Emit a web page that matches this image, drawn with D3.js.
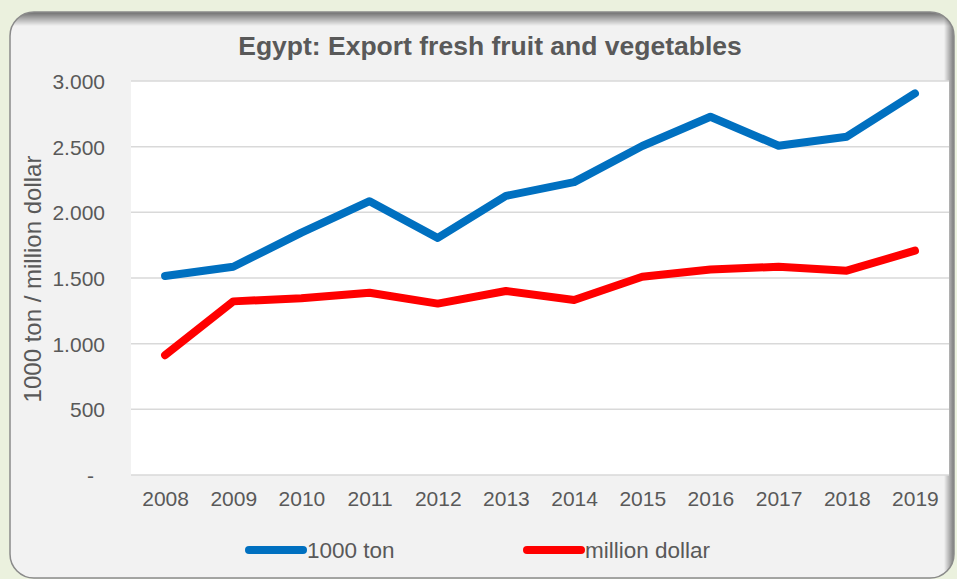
<!DOCTYPE html>
<html>
<head>
<meta charset="utf-8">
<script src="https://cdn.jsdelivr.net/npm/d3@7/dist/d3.min.js"></script>
<style>
  html, body { margin: 0; padding: 0; background: #ebf1de; }
  svg { display: block; font-family: "Liberation Sans", Arial, sans-serif; }
</style>
</head>
<body>
<svg id="chart" width="957" height="579"></svg>
<script>
const title = "Egypt: Export fresh fruit and vegetables";
const yAxisTitle = "1000 ton / million dollar";
const years = ["2008","2009","2010","2011","2012","2013","2014","2015","2016","2017","2018","2019"];
const seriesNames = ["1000 ton", "million dollar"];
const tonValues = [1515, 1586, 1845, 2085, 1805, 2125, 2230, 2505, 2728, 2507, 2576, 2906];
const dollarValues = [912, 1322, 1345, 1388, 1305, 1401, 1332, 1510, 1564, 1586, 1556, 1708];
const yTicks = [0, 500, 1000, 1500, 2000, 2500, 3000];
const colors = ["#0070c0", "#ff0000"];

const svg = d3.select("#chart");
const plot = { left: 131, right: 949, top: 81, bottom: 475 };

// defs
const defs = svg.append("defs");
defs.append("clipPath").attr("id", "panelClip")
  .append("rect").attr("x", 10).attr("y", 12).attr("width", 944).attr("height", 566).attr("rx", 24).attr("ry", 24);
const gTop = defs.append("linearGradient").attr("id", "shTop").attr("x1", 0).attr("y1", 0).attr("x2", 0).attr("y2", 1);
gTop.append("stop").attr("offset", "0").attr("stop-color", "#000").attr("stop-opacity", 0.55);
gTop.append("stop").attr("offset", "1").attr("stop-color", "#000").attr("stop-opacity", 0);
const gRight = defs.append("linearGradient").attr("id", "shRight").attr("x1", 1).attr("y1", 0).attr("x2", 0).attr("y2", 0);
gRight.append("stop").attr("offset", "0").attr("stop-color", "#000").attr("stop-opacity", 0.5);
gRight.append("stop").attr("offset", "1").attr("stop-color", "#000").attr("stop-opacity", 0);

// panel
svg.append("rect").attr("x", 10).attr("y", 12).attr("width", 944).attr("height", 566)
  .attr("rx", 24).attr("ry", 24).attr("fill", "#f2f2f2");
const sh = svg.append("g").attr("clip-path", "url(#panelClip)");
sh.append("rect").attr("x", 10).attr("y", 12).attr("width", 944).attr("height", 14).attr("fill", "url(#shTop)");
sh.append("rect").attr("x", 944).attr("y", 12).attr("width", 10).attr("height", 566).attr("fill", "url(#shRight)");
svg.append("rect").attr("x", 10).attr("y", 12).attr("width", 944).attr("height", 566)
  .attr("rx", 24).attr("ry", 24).attr("fill", "none").attr("stroke", "#8a8a8a").attr("stroke-width", 1.5);

// plot area
svg.append("rect").attr("x", plot.left).attr("y", plot.top)
  .attr("width", plot.right - plot.left).attr("height", plot.bottom - plot.top).attr("fill", "#ffffff");

const x = d3.scalePoint().domain(years).range([plot.left, plot.right]).padding(0.5);
const y = d3.scaleLinear().domain([0, 3000]).range([plot.bottom, plot.top]);

const loc = d3.formatLocale({ decimal: ",", thousands: ".", grouping: [3], currency: ["", ""] });
const fmt = loc.format(",");

// gridlines
svg.append("g").selectAll("line").data(yTicks).join("line")
  .attr("x1", plot.left).attr("x2", plot.right)
  .attr("y1", d => y(d)).attr("y2", d => y(d))
  .attr("stroke", "#d9d9d9").attr("stroke-width", 1.5);

// y axis
const yAxis = svg.append("g").attr("transform", `translate(${plot.left - 26},0)`)
  .call(d3.axisLeft(y).tickValues(yTicks).tickSize(0).tickFormat(d => d === 0 ? "-" : fmt(d)));
yAxis.select(".domain").remove();
yAxis.selectAll("text").attr("fill", "#595959").attr("font-size", 21).attr("x", 0)
  .attr("dy", "0.35em")
  .filter(d => d === 0).attr("x", -11);

// x axis
const xAxis = svg.append("g").attr("transform", `translate(0,${plot.bottom})`)
  .call(d3.axisBottom(x).tickSize(0));
xAxis.select(".domain").remove();
xAxis.selectAll("text").attr("fill", "#595959").attr("font-size", 21).attr("y", 16).attr("dy", "0.71em");

// lines
const line = d3.line().x((d, i) => x(years[i])).y(d => y(d));
[tonValues, dollarValues].forEach((vals, k) => {
  svg.append("path").datum(vals).attr("d", line)
    .attr("fill", "none").attr("stroke", colors[k]).attr("stroke-width", 8)
    .attr("stroke-linejoin", "round").attr("stroke-linecap", "round");
});

// title
svg.append("text").attr("x", 490).attr("y", 55).attr("text-anchor", "middle")
  .attr("font-size", 26.5).attr("font-weight", "bold").attr("fill", "#595959").text(title);

// y axis title
svg.append("text").attr("transform", `translate(41,${(plot.top + plot.bottom) / 2 + 1}) rotate(-90)`)
  .attr("text-anchor", "middle").attr("font-size", 24).attr("fill", "#595959").text(yAxisTitle);

// legend
const legendX = [249, 527];
const lg = svg.append("g");
seriesNames.forEach((name, k) => {
  lg.append("line").attr("x1", legendX[k]).attr("x2", legendX[k] + 54).attr("y1", 550).attr("y2", 550)
    .attr("stroke", colors[k]).attr("stroke-width", 8).attr("stroke-linecap", "round");
  lg.append("text").attr("x", legendX[k] + 58).attr("y", 558).attr("font-size", 22.5)
    .attr("fill", "#595959").text(name);
});
</script>
</body>
</html>
